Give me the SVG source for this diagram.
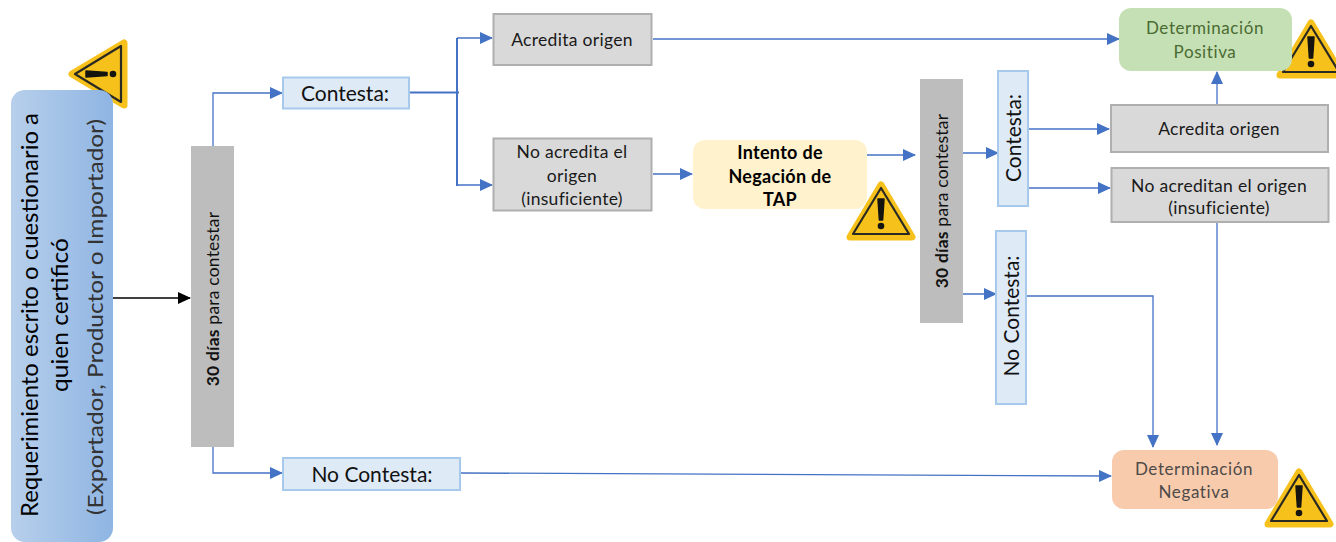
<svg xmlns="http://www.w3.org/2000/svg" width="1336" height="542" viewBox="0 0 1336 542">
<style>
text{font-family:Lato,"Open Sans","Liberation Sans",sans-serif;text-anchor:middle}
.blue{fill:#deeaf6;stroke:#a6c9ec;stroke-width:2}
.gray{fill:#d9d9d9;stroke:#b0aeae;stroke-width:2}
.bar{fill:#bdbdbd}
.c{fill:none;stroke:#4472c4;stroke-width:1.3}
.l{font-size:21px;fill:#111}
.s{font-size:17.500px;letter-spacing:.3px;fill:#1a1a1a}
.b{font-size:18px;letter-spacing:.3px;font-weight:700;fill:#000}
.v{font-size:17.500px;letter-spacing:.2px;fill:#111}
.t{font-size:17px;letter-spacing:.6px}
</style>
<defs>
<linearGradient id="g1" x1="0" x2="1" y1="0" y2="0"><stop offset="0" stop-color="#b7cfeb"/><stop offset="1" stop-color="#8fb5e3"/></linearGradient>
<marker id="a" markerWidth="13" markerHeight="12" refX="12" refY="6" orient="auto" markerUnits="userSpaceOnUse"><path d="M0 0L13 6L0 12Z" fill="#4472c4"/></marker>
<marker id="k" markerWidth="13" markerHeight="12" refX="12" refY="6" orient="auto" markerUnits="userSpaceOnUse"><path d="M0 0L13 6L0 12Z" fill="#000"/></marker>
<g id="w">
<path d="M0-26L31 26H-31Z" fill="#f7c11c" stroke="#f7c11c" stroke-width="7" stroke-linejoin="round"/>
<path d="M0-23L28 23H-28Z" fill="none" stroke="#2b2a22" stroke-width="2.200" stroke-linejoin="round"/>
<path d="M-3-12H3L1.600 9H-1.600Z" fill="#15140f" stroke="#15140f" stroke-linejoin="round" stroke-width="1.500"/>
<circle cy="15" r="3.300" fill="#15140f"/>
</g>
</defs>

<g id="connectors">
<path class="c" style="stroke:#000" d="M113 298H190" marker-end="url(#k)"/>
<path class="c" d="M213 146V93H282" marker-end="url(#a)"/>
<path class="c" d="M213 447V473H282" marker-end="url(#a)"/>
<path class="c" style="stroke-width:2" d="M409 92.500H459M457 38V186"/>
<path class="c" d="M457 38H492" marker-end="url(#a)"/>
<path class="c" d="M457 185H492" marker-end="url(#a)"/>
<path class="c" d="M653 39H1119" marker-end="url(#a)"/>
<path class="c" d="M653 174H692" marker-end="url(#a)"/>
<path class="c" d="M867 155H915" marker-end="url(#a)"/>
<path class="c" d="M963 153H998" marker-end="url(#a)"/>
<path class="c" d="M963 294H996" marker-end="url(#a)"/>
<path class="c" d="M1027 129H1109" marker-end="url(#a)"/>
<path class="c" d="M1029 188H1110" marker-end="url(#a)"/>
<path class="c" d="M1217 104V72" marker-end="url(#a)"/>
<path class="c" d="M1217 222V445" marker-end="url(#a)"/>
<path class="c" d="M1027 296H1153V447" marker-end="url(#a)"/>
<path class="c" d="M461 473L1111 476" marker-end="url(#a)"/>
</g>

<g id="warn1"><use href="#w" transform="translate(98 74) rotate(-90)"/></g>
<g id="req">
<rect x="11" y="90" width="102" height="452" rx="14" fill="url(#g1)"/>
<text transform="translate(38 315) rotate(-90)" font-size="24" fill="#000" textLength="404" lengthAdjust="spacingAndGlyphs">Requerimiento escrito o cuestionario a</text>
<text transform="translate(68 315) rotate(-90)" font-size="24" fill="#000" textLength="154" lengthAdjust="spacingAndGlyphs">quien certificó</text>
<text transform="translate(103 317) rotate(-90)" font-size="22" fill="#333" textLength="396" lengthAdjust="spacingAndGlyphs">(Exportador, Productor o Importador)</text>
</g>
<g id="bar1"><rect class="bar" x="191" y="146" width="43" height="301"/>
<text class="v" transform="translate(219 299) rotate(-90)"><tspan font-weight="700">30 días</tspan> para contestar</text></g>
<g id="contesta1"><rect class="blue" x="283" y="77.500" width="126" height="31"/><text class="l" x="345" y="101">Contesta:</text></g>
<g id="nocontesta1"><rect class="blue" x="283" y="458" width="177" height="32"/><text class="l" x="372" y="482">No Contesta:</text></g>
<g id="acredita1"><rect class="gray" x="493.500" y="14" width="158" height="51"/><text class="s" x="572" y="46">Acredita origen</text></g>
<g id="noacredita1"><rect class="gray" x="493.500" y="138.500" width="158" height="72"/><text class="s" x="572" y="158">No acredita el</text><text class="s" x="572" y="182">origen</text><text class="s" x="572" y="205">(insuficiente)</text></g>
<g id="intento"><rect x="693" y="140" width="174" height="69" rx="12" fill="#fff2cc"/><text class="b" x="780" y="159">Intento de</text><text class="b" x="780" y="183">Negación de</text><text class="b" x="780" y="206">TAP</text></g>
<g id="warn2"><use href="#w" transform="translate(881 211)"/></g>
<g id="bar2"><rect class="bar" x="920" y="79" width="43" height="244"/>
<text class="v" transform="translate(948 201) rotate(-90)"><tspan font-weight="700">30 días</tspan> para contestar</text></g>
<g id="contesta2"><rect class="blue" x="998" y="71" width="30" height="135"/><text class="l" transform="translate(1021 138) rotate(-90)">Contesta:</text></g>
<g id="nocontesta2"><rect class="blue" x="996" y="231" width="30" height="173"/><text class="l" transform="translate(1019 316) rotate(-90)">No Contesta:</text></g>
<g id="acredita2"><rect class="gray" x="1111" y="105" width="217" height="47"/><text class="s" x="1219" y="135">Acredita origen</text></g>
<g id="noacredita2"><rect class="gray" x="1111.500" y="168" width="217" height="54"/><text class="s" x="1219" y="192">No acreditan el origen</text><text class="s" x="1219" y="214">(insuficiente)</text></g>
<g id="warn3"><use href="#w" transform="translate(1311 49)"/></g>
<g id="positiva"><rect x="1119" y="8" width="173" height="63" rx="12" fill="#c5e0b4"/><text class="t" x="1205" y="34" fill="#4a6b32">Determinación</text><text class="t" x="1205" y="58" fill="#4a6b32">Positiva</text></g>
<g id="warn4"><use href="#w" transform="translate(1299 498)"/></g>
<g id="negativa"><rect x="1112" y="450" width="166" height="59" rx="12" fill="#f8cbad"/><text class="t" x="1194" y="475" fill="#4d4a48">Determinación</text><text class="t" x="1194" y="498" fill="#4d4a48">Negativa</text></g>
</svg>
